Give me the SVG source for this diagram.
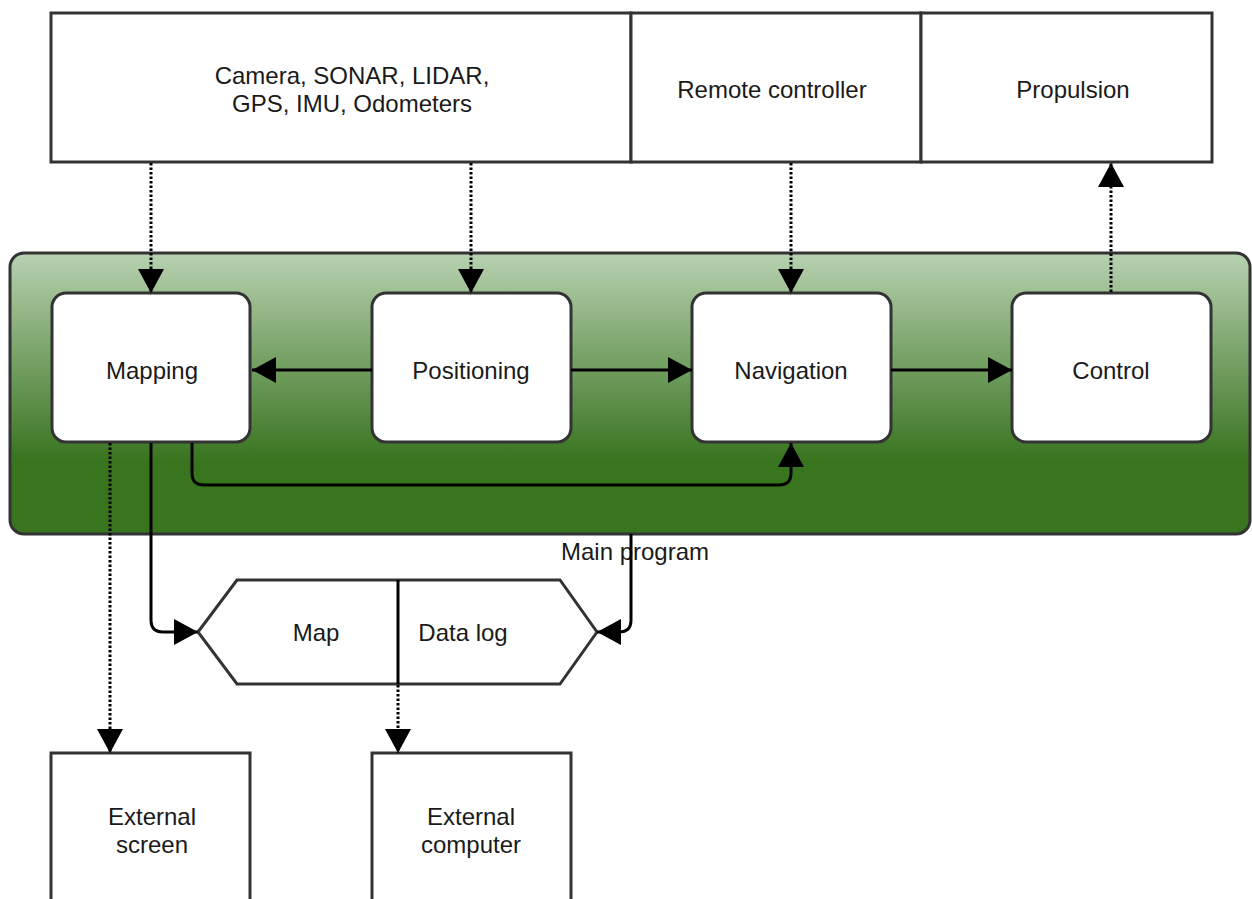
<svg xmlns="http://www.w3.org/2000/svg" width="1252" height="899" viewBox="0 0 1252 899">
  <style>
    .box { fill: #ffffff; stroke: #333333; stroke-width: 3; }
    .lbl { font-family: "Liberation Sans", Arial, sans-serif; font-size: 24px; fill: #1a1a1a; text-anchor: middle; dominant-baseline: central; }
    .solid { fill: none; stroke: #000000; stroke-width: 3; }
    .dot { fill: none; stroke: #000000; stroke-width: 3; stroke-dasharray: 2.5 2; }
  </style>
  <defs>
    <linearGradient id="green" x1="0" y1="0" x2="0" y2="1">
      <stop offset="0" stop-color="#b7d1b0"/>
      <stop offset="0.74" stop-color="#39741f"/>
      <stop offset="1" stop-color="#39741f"/>
    </linearGradient>
    <marker id="arr" markerUnits="userSpaceOnUse" markerWidth="26" markerHeight="28" refX="24" refY="13" orient="auto">
      <path d="M0,0 L24,13 L0,26 z" fill="#000000"/>
    </marker>
  </defs>

  <rect width="1252" height="899" fill="#ffffff"/>

  <g id="sensors">
    <rect class="box" x="51" y="13" width="580" height="149"/>
    <text class="lbl" x="352" y="75">Camera, SONAR, LIDAR,</text>
    <text class="lbl" x="352" y="103">GPS, IMU, Odometers</text>
  </g>
  <g id="remote">
    <rect class="box" x="631" y="13" width="290" height="149"/>
    <text class="lbl" x="772" y="89">Remote controller</text>
  </g>
  <g id="propulsion">
    <rect class="box" x="921" y="13" width="291" height="149"/>
    <text class="lbl" x="1073" y="89">Propulsion</text>
  </g>

  <g id="main-program">
    <rect x="10" y="253" width="1240" height="281" rx="14" ry="14" fill="url(#green)" stroke="#333333" stroke-width="3"/>
    <text class="lbl" x="635" y="551">Main program</text>
  </g>

  <g id="mapping">
    <rect class="box" x="52" y="293" width="198" height="149" rx="14" ry="14"/>
    <text class="lbl" x="152" y="370">Mapping</text>
  </g>
  <g id="positioning">
    <rect class="box" x="372" y="293" width="199" height="149" rx="14" ry="14"/>
    <text class="lbl" x="471" y="370">Positioning</text>
  </g>
  <g id="navigation">
    <rect class="box" x="692" y="293" width="199" height="149" rx="14" ry="14"/>
    <text class="lbl" x="791" y="370">Navigation</text>
  </g>
  <g id="control">
    <rect class="box" x="1012" y="293" width="199" height="149" rx="14" ry="14"/>
    <text class="lbl" x="1111" y="370">Control</text>
  </g>

  <g id="storage">
    <polygon class="box" points="198,632 237,580 560,580 597,632 560,684 237,684"/>
    <line x1="398" y1="580" x2="398" y2="684" stroke="#000000" stroke-width="3"/>
    <text class="lbl" x="316" y="632">Map</text>
    <text class="lbl" x="463" y="632">Data log</text>
  </g>

  <g id="external-screen">
    <rect class="box" x="51" y="753" width="199" height="160"/>
    <text class="lbl" x="152" y="816">External</text>
    <text class="lbl" x="152" y="844">screen</text>
  </g>
  <g id="external-computer">
    <rect class="box" x="372" y="753" width="199" height="160"/>
    <text class="lbl" x="471" y="816">External</text>
    <text class="lbl" x="471" y="844">computer</text>
  </g>

  <g id="connectors">
    <line class="dot" x1="151" y1="163" x2="151" y2="293" marker-end="url(#arr)"/>
    <line class="dot" x1="471" y1="163" x2="471" y2="293" marker-end="url(#arr)"/>
    <line class="dot" x1="791" y1="163" x2="791" y2="293" marker-end="url(#arr)"/>
    <line class="dot" x1="1111" y1="292" x2="1111" y2="163" marker-end="url(#arr)"/>
    <line class="solid" x1="372" y1="370" x2="252" y2="370" marker-end="url(#arr)"/>
    <line class="solid" x1="571" y1="370" x2="692" y2="370" marker-end="url(#arr)"/>
    <line class="solid" x1="891" y1="370" x2="1012" y2="370" marker-end="url(#arr)"/>
    <path class="solid" d="M192,443 V473 Q192,485 204,485 H779 Q791,485 791,473 V443" marker-end="url(#arr)"/>
    <path class="solid" d="M151,443 V620 Q151,632 163,632 H198" marker-end="url(#arr)"/>
    <path class="solid" d="M631,534 V620 Q631,632 619,632 H597" marker-end="url(#arr)"/>
    <line class="dot" x1="110" y1="443" x2="110" y2="753" marker-end="url(#arr)"/>
    <line class="dot" x1="398" y1="685" x2="398" y2="753" marker-end="url(#arr)"/>
  </g>
</svg>
